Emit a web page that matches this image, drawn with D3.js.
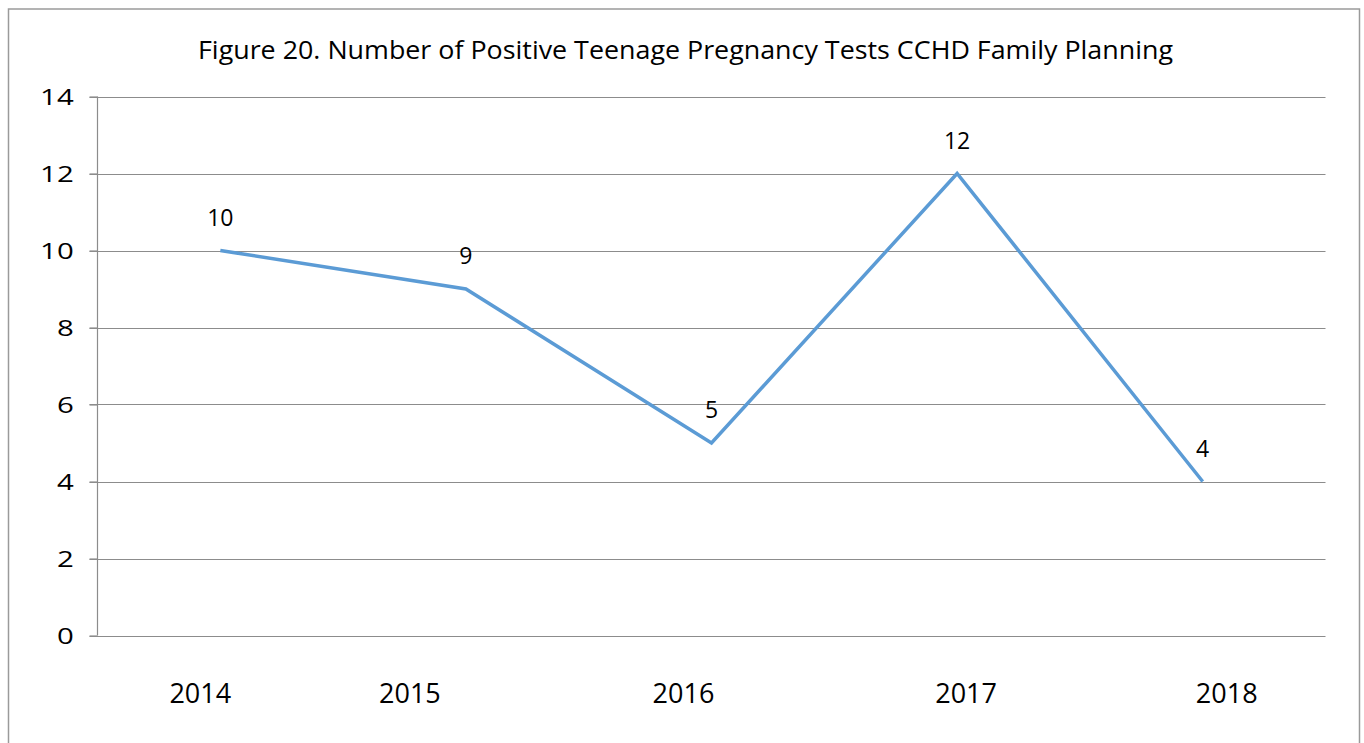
<!DOCTYPE html>
<html>
<head>
<meta charset="utf-8">
<script src="https://cdn.jsdelivr.net/npm/d3@7"></script>
<style>
  html, body { margin: 0; padding: 0; background: #fff; }
  svg text { font-family: "Open Sans", "Liberation Sans", Arial, sans-serif; fill: #000; }
</style>
</head>
<body>
<div id="chart"></div>
<script>
  // data
  const years = ["2014", "2015", "2016", "2017", "2018"];
  const positives = [10, 9, 5, 12, 4];
  const yTicks = [0, 2, 4, 6, 8, 10, 12, 14];
  const titleText = "Figure 20. Number of Positive Teenage Pregnancy Tests CCHD Family Planning";

  // layout
  const W = 1364, H = 743;
  const plot = {left: 97.5, right: 1325.5, top: 96.5, bottom: 635.5};
  const yearLabelShift = [-20, -56, -28, 9, 24]; // category labels sit off-centre in the original
  const lineColor = "#5B9BD5",
    gridColor = "#8c8c8c";

  const svg = d3.select("#chart").append("svg")
      .attr("width", W)
      .attr("height", H);

  // outer chart border
  svg.append("rect")
      .attr("x", 8.5)
      .attr("y", 9)
      .attr("width", 1351)
      .attr("height", 760)
      .attr("fill", "#fff")
      .attr("stroke", "#9a9a9a")
      .attr("stroke-width", 1.5);

  const x = d3.scaleBand()
      .domain(years)
      .range([plot.left, plot.right]);

  const y = d3.scaleLinear()
      .domain([0, 14])
      .range([plot.bottom, plot.top]);

  // title
  svg.append("text")
      .attr("x", 685.5)
      .attr("y", 59)
      .attr("text-anchor", "middle")
      .attr("textLength", 975)
      .attr("lengthAdjust", "spacingAndGlyphs")
      .style("font-size", "25px")
      .text(titleText);

  // horizontal gridlines (including the 0 line that doubles as the x axis)
  svg.append("g")
      .selectAll("line")
      .data(yTicks)
      .enter().append("line")
        .attr("x1", plot.left - 8)
        .attr("x2", plot.right)
        .attr("y1", (d) => Math.round(y(d)) + 0.5)
        .attr("y2", (d) => Math.round(y(d)) + 0.5)
        .attr("stroke", gridColor)
        .attr("stroke-width", 1.2);

  // y axis
  const yAxis = svg.append("g")
      .attr("transform", "translate(" + plot.left + ",0)")
      .call(d3.axisLeft(y).tickValues(yTicks).tickSize(8).tickPadding(0).tickFormat(d3.format("d")));

  yAxis.select(".domain")
      .attr("stroke", gridColor)
      .attr("stroke-width", 1.2)
      .attr("d", "M0," + plot.top + "V" + plot.bottom);
  yAxis.selectAll(".tick line").attr("stroke", gridColor).attr("stroke-width", 1.2);
  yAxis.selectAll(".tick text")
      .attr("x", -17)
      .attr("dy", "0.36em")
      .attr("transform", "scale(1.4,1)")
      .attr("fill", "#000")
      .style("font-family", "'Open Sans', 'Liberation Sans', Arial, sans-serif")
      .style("font-size", "21px");

  // category labels
  svg.append("g")
      .selectAll("text")
      .data(years)
      .enter().append("text")
        .attr("x", (d, i) => x(d) + x.bandwidth() / 2 + yearLabelShift[i])
        .attr("y", 703)
        .attr("text-anchor", "middle")
        .style("font-size", "27px")
        .text((d) => d);

  // the series line
  const line = d3.line()
      .x((d, i) => x(years[i]) + x.bandwidth() / 2)
      .y((d) => y(d));

  svg.append("path")
      .datum(positives)
      .attr("d", line)
      .attr("fill", "none")
      .attr("stroke", lineColor)
      .attr("stroke-width", 3.5)
      .attr("stroke-linejoin", "miter");

  // value labels above each point
  svg.append("g")
      .selectAll("text")
      .data(positives)
      .enter().append("text")
        .attr("x", (d, i) => x(years[i]) + x.bandwidth() / 2)
        .attr("y", (d) => y(d) - 25)
        .attr("text-anchor", "middle")
        .style("font-size", "23px")
        .text((d) => d);
</script>
</body>
</html>
